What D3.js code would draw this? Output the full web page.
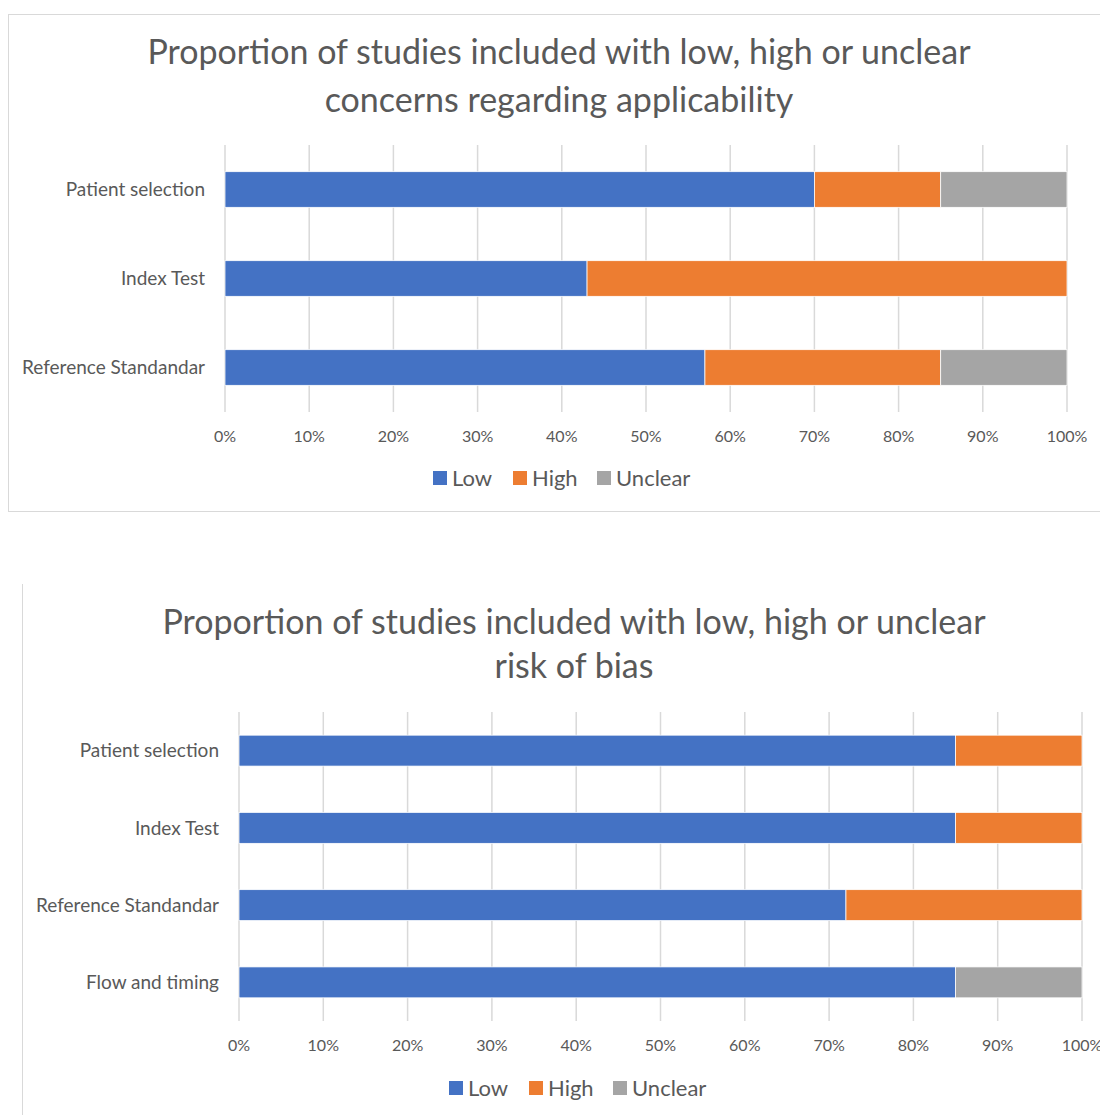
<!DOCTYPE html>
<html>
<head>
<meta charset="utf-8">
<script src="https://cdn.jsdelivr.net/npm/d3@7"></script>
<style>
  body { margin: 0; background: #fff; }
  svg { display: block; font-family: Lato, "Open Sans", sans-serif; }
</style>
</head>
<body>
<svg id="chart" width="1100" height="1115"></svg>
<script>
// Series names & colours
const seriesNames = ["Low", "High", "Unclear"];
const seriesColors = ["#4472C4", "#ED7D31", "#A5A5A5"];

// Chart 1 - applicability concerns
const applicCategories = ["Patient selection", "Index Test", "Reference Standandar"];
const applicLow = [70, 43, 57];
const applicHigh = [15, 57, 28];
const applicUnclear = [15, 0, 15];

// Chart 2 - risk of bias
const biasCategories = ["Patient selection", "Index Test", "Reference Standandar", "Flow and timing"];
const biasLow = [85, 85, 72, 85];
const biasHigh = [15, 15, 28, 0];
const biasUnclear = [0, 0, 0, 15];

const tickValues = [0, 10, 20, 30, 40, 50, 60, 70, 80, 90, 100];

const textColor = "#595959";
const gridColor = "#d9d9d9";

const svg = d3.select("#chart");

function drawChart(opts) {
    const g = svg.append("g");

    const x = d3.scaleLinear().domain([0, 100]).range([opts.left, opts.right]);
    const y = d3.scaleBand()
        .domain(opts.categories)
        .range([opts.top, opts.bottom])
        .paddingInner(0.6)
        .paddingOuter(0.3);

    // title
    g.selectAll("text.title")
        .data(opts.title)
        .enter().append("text")
        .attr("class", "title")
        .attr("x", opts.titleX)
        .attr("y", (d, i) => opts.titleY + i * opts.titleGap)
        .attr("text-anchor", "middle")
        .attr("font-size", 34)
        .attr("fill", textColor)
        .text(d => d);

    // gridlines
    g.append("g")
        .selectAll("line")
        .data(tickValues)
        .enter().append("line")
        .attr("x1", d => x(d)).attr("x2", d => x(d))
        .attr("y1", opts.top).attr("y2", opts.bottom)
        .attr("stroke", gridColor)
        .attr("stroke-width", 1.5);

    // stacked bars
    const rows = opts.categories.map((c, i) => ({
        cat: c, Low: opts.low[i], High: opts.high[i], Unclear: opts.unclear[i]
    }));
    const stacked = d3.stack().keys(seriesNames)(rows);

    g.selectAll("g.series")
        .data(stacked)
        .enter().append("g")
        .attr("class", "series")
        .attr("fill", (d, i) => seriesColors[i])
        .selectAll("rect")
        .data(d => d.filter(s => s[1] > s[0]))
        .enter().append("rect")
        .attr("x", d => x(d[0]))
        .attr("width", d => x(d[1]) - x(d[0]))
        .attr("y", d => y(d.data.cat))
        .attr("height", y.bandwidth())
        .attr("stroke", "#fff")
        .attr("stroke-width", 0.75);

    // category labels
    g.append("g")
        .selectAll("text")
        .data(opts.categories)
        .enter().append("text")
        .attr("x", opts.left - 20)
        .attr("y", d => y(d) + y.bandwidth() / 2)
        .attr("dy", "0.35em")
        .attr("text-anchor", "end")
        .attr("font-size", 19)
        .attr("fill", textColor)
        .text(d => d);

    // x axis tick labels
    g.append("g")
        .selectAll("text")
        .data(tickValues)
        .enter().append("text")
        .attr("x", d => x(d))
        .attr("y", opts.bottom + 24)
        .attr("dy", "0.35em")
        .attr("text-anchor", "middle")
        .attr("font-size", 16)
        .attr("fill", textColor)
        .text(d => d + "%");

    // legend
    const legend = g.append("g")
        .attr("transform", `translate(${opts.legendX}, ${opts.legendY})`);
    const offsets = [0, 80, 164];
    const item = legend.selectAll("g")
        .data(seriesNames)
        .enter().append("g")
        .attr("transform", (d, i) => `translate(${offsets[i]}, 0)`);
    item.append("rect")
        .attr("x", 0).attr("y", -7)
        .attr("width", 14).attr("height", 14)
        .attr("fill", (d, i) => seriesColors[i]);
    item.append("text")
        .attr("x", 19).attr("y", 0)
        .attr("dy", "0.35em")
        .attr("font-size", 22)
        .attr("fill", textColor)
        .text(d => d);
}

// frames
svg.append("rect")
    .attr("x", 8.5).attr("y", 14.5)
    .attr("width", 1100).attr("height", 497)
    .attr("fill", "none")
    .attr("stroke", gridColor);
svg.append("line")
    .attr("x1", 22.5).attr("x2", 22.5)
    .attr("y1", 584).attr("y2", 1115)
    .attr("stroke", gridColor);

drawChart({
    title: ["Proportion of studies included with low, high or unclear", "concerns regarding applicability"],
    titleX: 559, titleY: 64, titleGap: 48,
    categories: applicCategories,
    low: applicLow, high: applicHigh, unclear: applicUnclear,
    left: 225, right: 1067, top: 145, bottom: 412,
    legendX: 433, legendY: 478
});

drawChart({
    title: ["Proportion of studies included with low, high or unclear", "risk of bias"],
    titleX: 574, titleY: 634, titleGap: 44,
    categories: biasCategories,
    low: biasLow, high: biasHigh, unclear: biasUnclear,
    left: 239, right: 1082, top: 712, bottom: 1021,
    legendX: 449, legendY: 1088
});
</script>
</body>
</html>
